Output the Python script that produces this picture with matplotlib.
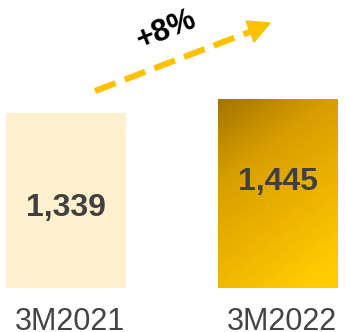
import numpy as np
import matplotlib.pyplot as plt
from matplotlib.colors import LinearSegmentedColormap
from matplotlib.patches import Polygon

categories = ["3M2021", "3M2022"]
values = [1339, 1445]
value_labels = ["1,339", "1,445"]
growth_label = "+8%"

W, H = 346, 332
fig = plt.figure(figsize=(W / 100, H / 100), dpi=100)
ax = fig.add_axes([0, 0, 1, 1])
ax.set_xlim(-0.312, 1.324)
ax.set_ylim(-335, 2205)
ax.axis("off")


def px(x, y):
    # image pixel (from top-left) -> figure fraction
    return (x / W, 1 - y / H)


x = np.arange(len(categories))
width = 0.567
bars = ax.bar(x, values, width=width, color=["#FFF0CE", "none"], edgecolor="none")

# gradient fill for the second bar: dark top-left -> bright bottom-right
gold = LinearSegmentedColormap.from_list("gold", ["#A47500", "#D89E00", "#EDB300", "#FFCC00"])
b = bars[1]
x0, y0 = b.get_x(), b.get_y()
x1, y1 = x0 + b.get_width(), y0 + b.get_height()
gx, gy = np.meshgrid(np.linspace(0, 1, 100), np.linspace(0, 1, 100))
grad = np.clip(0.35 * gx + 0.75 * gy, 0, 1)
im = ax.imshow(grad, cmap=gold, extent=[x0, x1, y0, y1], origin="upper",
               aspect="auto", interpolation="bicubic", zorder=2)
im.set_clip_path(b)

label_frac = [0.46, 0.56]
for xi, v, lab in zip(x, values, value_labels):
    ax.text(xi, v * label_frac[xi], lab, ha="center", va="center", fontsize=23,
            fontweight="bold", color="#404040", family="Liberation Sans", zorder=3)
    ax.text(xi + 0.02, -320, categories[xi], ha="center", va="baseline", fontsize=22,
            color="#444444", family="Liberation Sans")

# growth arrow
sx, sy = px(95, 91)
ex, ey = px(252, 31)
fig.add_artist(plt.Line2D([sx, ex], [sy, ey], transform=fig.transFigure,
                          color="#FFC000", lw=4.4, dashes=(3.6, 1.6),
                          solid_capstyle="butt", dash_capstyle="butt"))
head = Polygon([px(270, 23), px(246, 21), px(254, 42)], closed=True,
               transform=fig.transFigure, color="#FFC000")
fig.add_artist(head)
tx, ty = px(166, 30)
fig.text(tx, ty, growth_label, ha="center", va="center", rotation=22,
         fontsize=22, fontweight="bold", color="black", family="Liberation Sans")

fig.savefig("out.png", dpi=100)
